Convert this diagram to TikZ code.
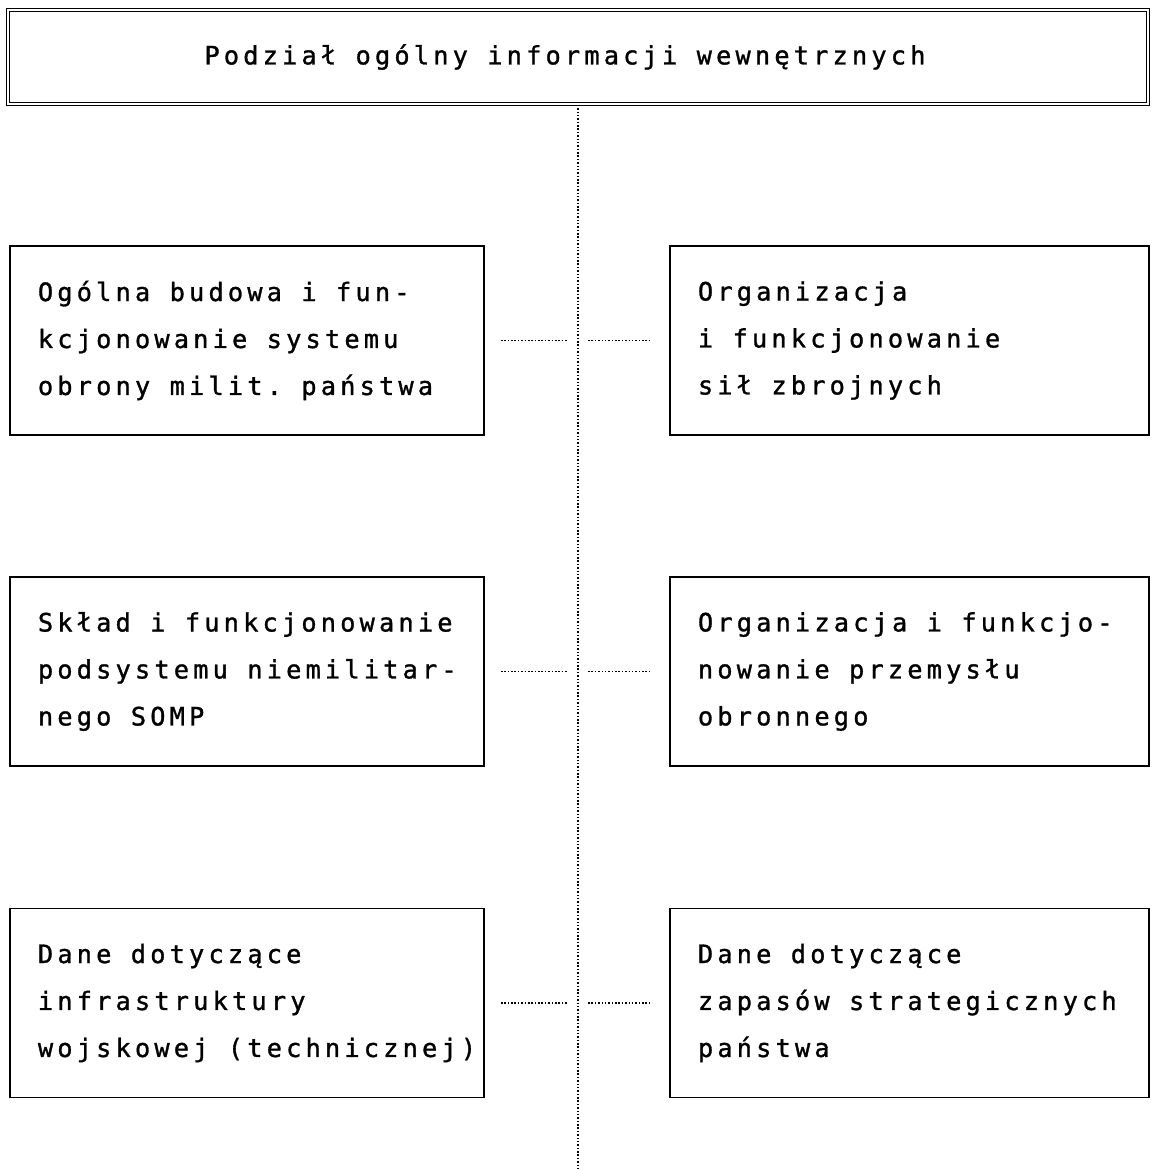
\documentclass[tikz,border=0pt]{standalone}
\usepackage{fontspec}
\setmonofont[LetterSpace=16.5,FakeBold=1.2]{DejaVu Sans Mono}
\begin{document}
\begin{tikzpicture}[x=0.025cm, y=-0.025cm,
  every node/.style={font=\ttfamily\fontsize{18}{33.4}\selectfont\frenchspacing},
  box/.style={draw, line width=1.3pt, minimum width=11.85cm, minimum height=4.725cm,
    text width=10.45cm, inner xsep=0.7cm, align=left,
    execute at begin node={\spaceskip=0pt\xspaceskip=0pt}},
  rbox/.style={box, minimum width=11.975cm, text width=10.575cm},
  dotline/.style={line width=1.4pt, dash pattern=on 1.1pt off 1.3pt}]
  \useasboundingbox (0,0) rectangle (1156,1170);
  % header
  \node[draw, double, line width=1.1pt, double distance=1pt,
    minimum width=28.5cm, minimum height=2.35cm] (head) at (578,57)
    {Podział ogólny informacji wewnętrznych\hspace*{0.65cm}};
  % left column
  \node[box] (L1) at (247,340.5) {Ogólna budowa i fun-\\kcjonowanie systemu\\obrony~milit.~państwa};
  \node[box] (L2) at (247,671.5) {Skład~i~funkcjonowanie\\podsystemu~niemilitar-\\nego SOMP};
  \node[box] (L3) at (247,1003) {Dane dotyczące\\infrastruktury\\wojskowej~(technicznej)};
  % right column
  \node[rbox] (R1) at (909.5,340.5) {Organizacja\\i funkcjonowanie\\sił zbrojnych};
  \node[rbox] (R2) at (909.5,671.5) {Organizacja~i~funkcjo-\\nowanie przemysłu\\obronnego};
  \node[rbox] (R3) at (909.5,1003) {Dane dotyczące\\zapasów~strategicznych\\państwa};
  % spine
  \coordinate (foot) at (578,1170);
  \draw[dotline] (head.south) -- (foot);
  \foreach \r/\y in {1/340.5,2/671.5,3/1003} {
    \coordinate (s\r) at (578,\y);
    \draw[dotline, shorten <=0.4cm, shorten >=0.275cm] (L\r) -- (s\r);
    \draw[dotline, shorten <=0.25cm, shorten >=0.425cm] (s\r) -- (R\r);
  }
\end{tikzpicture}
\end{document}
